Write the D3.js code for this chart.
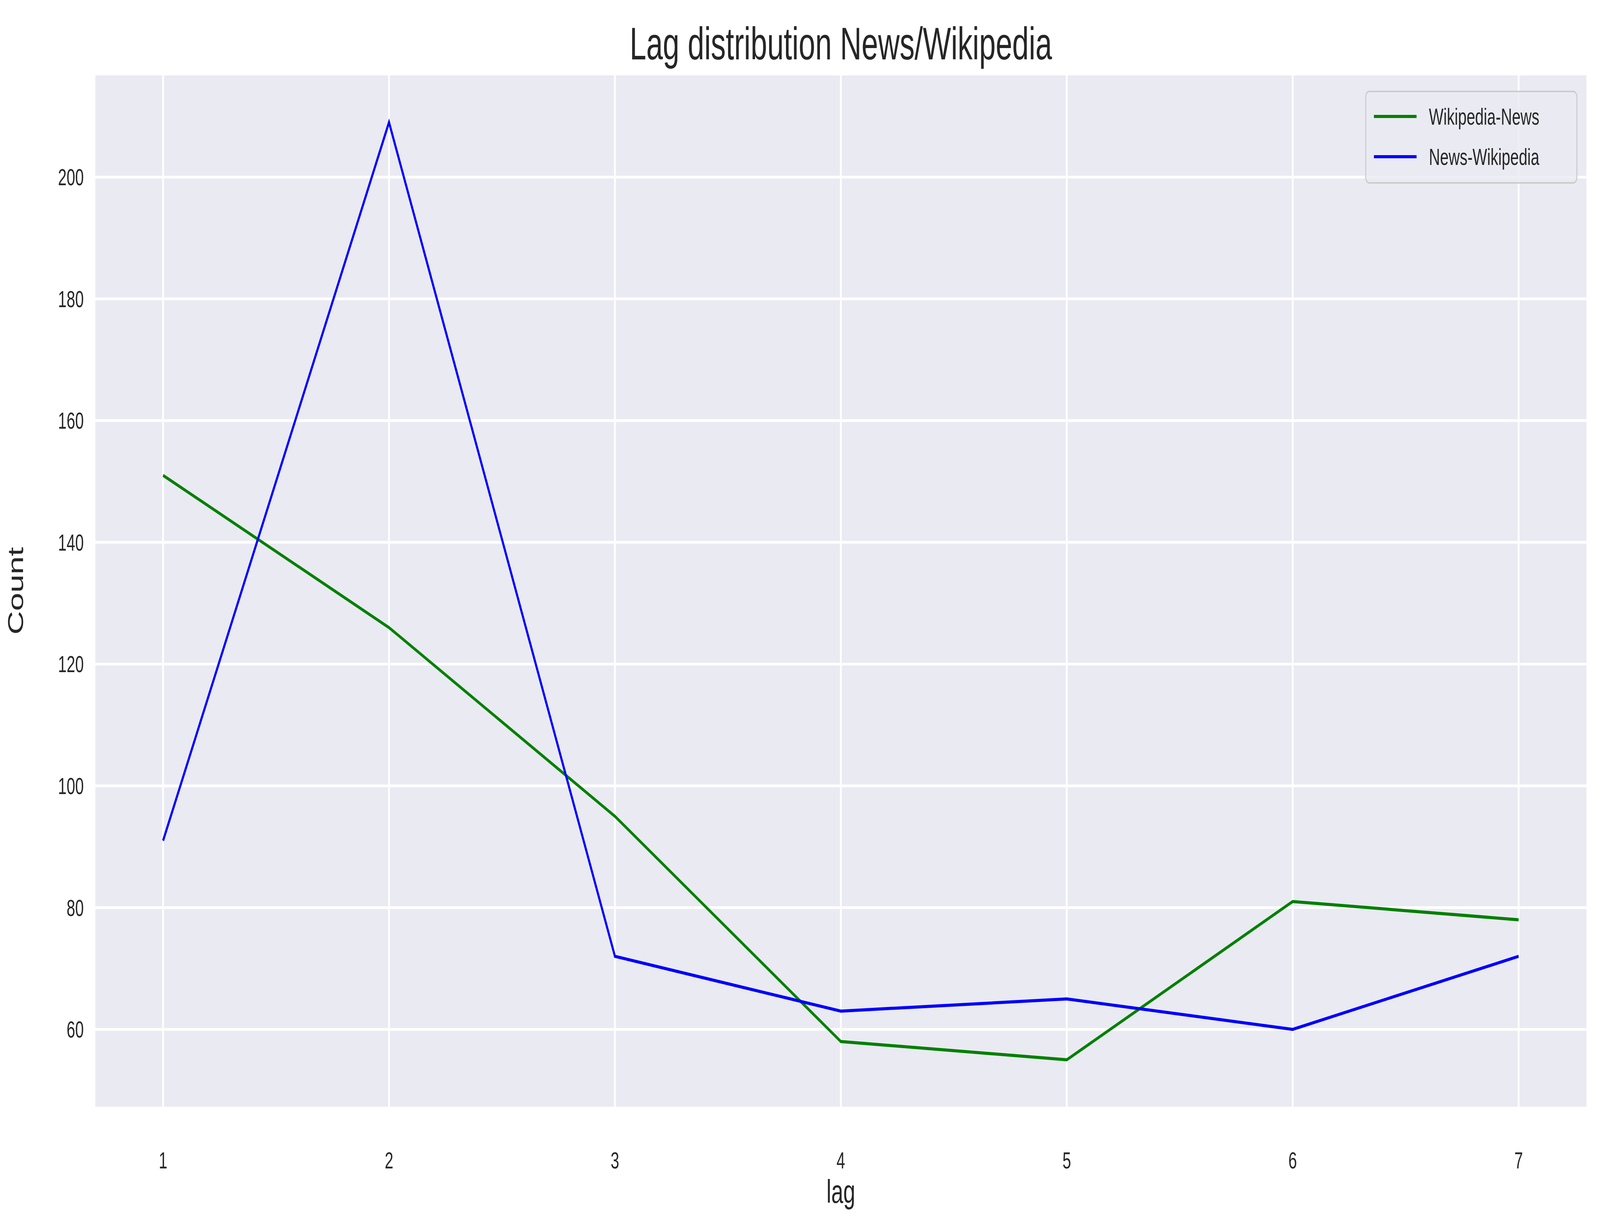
<!DOCTYPE html>
<html><head><meta charset="utf-8">
<script src="https://cdn.jsdelivr.net/npm/d3@7"></script>
<style>html,body{margin:0;padding:0;background:#fff;overflow:hidden;width:100%;height:100%}svg{display:block;width:100vw;height:100vh}text{font-family:"Liberation Sans",Arial,sans-serif;fill:#262626}</style>
</head><body><svg id="c" viewBox="0 0 6228 3145" preserveAspectRatio="none"></svg>
<script>
var lags = [1, 2, 3, 4, 5, 6, 7];
var wikiNews = [151, 126, 95, 58, 55, 81, 78];
var newsWiki = [91, 209, 72, 63, 65, 60, 72];
var yTicks = [60, 80, 100, 120, 140, 160, 180, 200];

var m = {l: 371, t: 193, r: 6175, b: 2832};
var svg = d3.select('#c');
var x = d3.scaleLinear().domain([0.7, 7.3]).range([m.l, m.r]);
var y = d3.scaleLinear().domain([47.3, 216.7]).range([m.b, m.t]);

svg.append('rect').attr('x', m.l).attr('y', m.t).attr('width', m.r - m.l).attr('height', m.b - m.t).attr('fill', '#eaeaf2');

var g = svg.append('g');
g.selectAll('.vg').data(lags).enter().append('line')
  .attr('x1', d => x(d)).attr('x2', d => x(d)).attr('y1', m.t).attr('y2', m.b)
  .attr('stroke', '#fff').attr('stroke-width', 7);
g.selectAll('.hg').data(yTicks).enter().append('line')
  .attr('x1', m.l).attr('x2', m.r).attr('y1', d => y(d)).attr('y2', d => y(d))
  .attr('stroke', '#fff').attr('stroke-width', 7);

g.selectAll('.xt').data(lags).enter().append('text')
  .attr('x', d => x(d)).attr('y', 2990).attr('text-anchor', 'middle')
  .attr('font-size', 60).text(d => d);
g.selectAll('.yt').data(yTicks).enter().append('text')
  .attr('x', 326).attr('y', d => y(d) + 21).attr('text-anchor', 'end')
  .attr('font-size', 60).text(d => d);

var line = d3.line().x((d, i) => x(lags[i])).y(d => y(d));
svg.append('path').datum(wikiNews).attr('d', line).attr('fill', 'none').attr('stroke', '#008000').attr('stroke-width', 8);
svg.append('path').datum(newsWiki).attr('d', line).attr('fill', 'none').attr('stroke', '#0000ff').attr('stroke-width', 8);

svg.append('text').attr('x', (m.l + m.r) / 2).attr('y', 152).attr('text-anchor', 'middle').attr('font-size', 116).text('Lag distribution News/Wikipedia');
svg.append('text').attr('x', (m.l + m.r) / 2).attr('y', 3078).attr('text-anchor', 'middle').attr('font-size', 84).text('lag');
svg.append('text').attr('transform', 'translate(90,1512) rotate(-90)').attr('text-anchor', 'middle').attr('font-size', 84).text('Count');

var series = [{name: 'Wikipedia-News', color: '#008000'}, {name: 'News-Wikipedia', color: '#0000ff'}];
var lg = svg.append('g');
lg.append('rect').attr('x', 5316).attr('y', 234).attr('width', 822).attr('height', 234).attr('rx', 14)
  .attr('fill', '#eaeaf2').attr('fill-opacity', 0.8).attr('stroke', '#cccccc').attr('stroke-width', 4);
series.forEach(function (s, i) {
  var yy = 298 + i * 103;
  lg.append('line').attr('x1', 5348).attr('x2', 5514).attr('y1', yy).attr('y2', yy).attr('stroke', s.color).attr('stroke-width', 8);
  lg.append('text').attr('x', 5562).attr('y', yy + 21).attr('font-size', 60).text(s.name);
});
</script></body></html>
